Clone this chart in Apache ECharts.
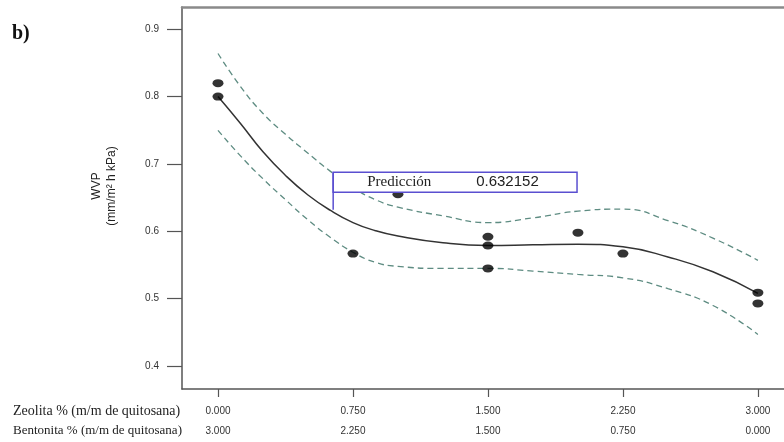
<!DOCTYPE html>
<html>
<head>
<meta charset="utf-8">
<script src="https://cdn.jsdelivr.net/npm/echarts@6/dist/echarts.min.js"></script>
<style>
  html, body { margin: 0; padding: 0; background: #fff; }
  #chart { width: 784px; height: 442px; }
</style>
</head>
<body>
<div id="chart"></div>
<script>
// valores
var curveX = [0, 0.125, 0.25, 0.375, 0.5, 0.625, 0.75, 0.875, 1.0, 1.25, 1.5, 1.75, 2.0, 2.25, 2.5, 2.75, 3.0];
var fitVals = [0.800, 0.760, 0.718, 0.683, 0.654, 0.631, 0.613, 0.601, 0.593, 0.583, 0.579, 0.580, 0.581, 0.577, 0.562, 0.540, 0.508];
var upperVals = [0.864, 0.815, 0.775, 0.744, 0.716, 0.689, 0.665, 0.647, 0.636, 0.623, 0.613, 0.620, 0.630, 0.633, 0.616, 0.590, 0.557];
var lowerVals = [0.750, 0.712, 0.678, 0.647, 0.617, 0.591, 0.569, 0.554, 0.548, 0.545, 0.545, 0.541, 0.536, 0.531, 0.515, 0.490, 0.447];

var pointX = [0, 0, 0.75, 1.0, 1.5, 1.5, 1.5, 2.0, 2.25, 3.0, 3.0];
var pointY = [0.820, 0.800, 0.567, 0.655, 0.592, 0.579, 0.545, 0.598, 0.567, 0.509, 0.493];

var xTicks = [0, 0.75, 1.5, 2.25, 3.0];
var zeolitaLabels = ['0.000', '0.750', '1.500', '2.250', '3.000'];
var bentonitaLabels = ['3.000', '2.250', '1.500', '0.750', '0.000'];
var yTicks = [0.4, 0.5, 0.6, 0.7, 0.8, 0.9];

var predX = 0.64;
var predY = 0.632152;
var predLabel = 'Predicción';
var predText = '0.632152';

var myChart = echarts.init(document.getElementById('chart'));

function pairs(xs, ys) {
    var out = [];
    for (var i = 0; i < xs.length; i++) out.push([xs[i], ys[i]]);
    return out;
}

var axisGray = '#555';
var bandColor = '#5e8c82';

var option = {
    animation: false,
    grid: {
        left: 182,
        right: 0,
        top: 7,
        bottom: 53,
        outerBoundsMode: 'none'
    },
    xAxis: [{
        type: 'value',
        min: -0.2,
        max: 3.145,
        splitLine: { show: false },
        axisLine: { onZero: false, lineStyle: { color: axisGray, width: 1.5 } },
        axisTick: {
            customValues: xTicks,
            length: 8,
            lineStyle: { color: axisGray, width: 1.2 }
        },
        axisLabel: {
            customValues: xTicks,
            margin: 12,
            fontSize: 10,
            lineHeight: 20,
            color: '#333',
            fontFamily: 'Arial, Liberation Sans, sans-serif',
            formatter: function (v) {
                var i = xTicks.indexOf(v);
                return zeolitaLabels[i] + '\n' + bentonitaLabels[i];
            }
        }
    }, {
        type: 'value',
        position: 'top',
        min: -0.2,
        max: 3.145,
        splitLine: { show: false },
        axisLine: { onZero: false, lineStyle: { color: '#8a8a8a', width: 2.5 } },
        axisTick: { show: false },
        axisLabel: { show: false }
    }],
    yAxis: {
        type: 'value',
        min: 0.366,
        max: 0.933,
        splitLine: { show: false },
        axisLine: { onZero: false, lineStyle: { color: axisGray, width: 1.5 } },
        axisTick: {
            customValues: yTicks,
            length: 15,
            lineStyle: { color: axisGray, width: 1.2 }
        },
        axisLabel: {
            customValues: yTicks,
            margin: 23,
            fontSize: 10,
            color: '#333',
            fontFamily: 'Arial, Liberation Sans, sans-serif',
            formatter: function (v) { return v.toFixed(1); }
        }
    },
    series: [{
        name: 'upper',
        type: 'line',
        data: pairs(curveX, upperVals),
        smooth: true,
        showSymbol: false,
        lineStyle: { color: bandColor, width: 1.3, type: [6, 4] }
    }, {
        name: 'lower',
        type: 'line',
        data: pairs(curveX, lowerVals),
        smooth: true,
        showSymbol: false,
        lineStyle: { color: bandColor, width: 1.3, type: [6, 4] }
    }, {
        name: 'fit',
        type: 'line',
        data: pairs(curveX, fitVals),
        smooth: true,
        showSymbol: false,
        lineStyle: { color: '#333', width: 1.5 }
    }, {
        name: 'obs',
        type: 'scatter',
        data: pairs(pointX, pointY),
        symbol: 'circle',
        symbolSize: [11, 8],
        itemStyle: { color: '#000' },
        z: 5
    }]
};
myChart.setOption(option);

// anotaciones
var p = myChart.convertToPixel({ gridIndex: 0 }, [predX, predY]);
var boxTL = myChart.convertToPixel({ gridIndex: 0 }, [predX, 0.6876]);
var boxBR = myChart.convertToPixel({ gridIndex: 0 }, [1.995, 0.658]);
var boxColor = '#5a4fd0';

myChart.setOption({
    graphic: [
        {
            type: 'text', left: 12, top: 24,
            style: { text: 'b)', font: 'bold 20px "Liberation Serif", serif', fill: '#111' }
        },
        {
            type: 'text', x: 104, y: 186, rotation: Math.PI / 2,
            style: {
                text: 'WVP\n(mm/m² h kPa)',
                font: '12px Arial, "Liberation Sans", sans-serif',
                lineHeight: 15,
                fill: '#222',
                align: 'center',
                verticalAlign: 'middle'
            }
        },
        {
            type: 'text', x: 13, y: 411,
            style: { text: 'Zeolita % (m/m de quitosana)', font: '14px "Liberation Serif", serif', fill: '#222', verticalAlign: 'middle' }
        },
        {
            type: 'text', x: 13, y: 431,
            style: { text: 'Bentonita % (m/m de quitosana)', font: '13px "Liberation Serif", serif', fill: '#222', verticalAlign: 'middle' }
        },
        {
            type: 'rect', z: 10,
            shape: { x: boxTL[0], y: boxTL[1], width: boxBR[0] - boxTL[0], height: boxBR[1] - boxTL[1] },
            style: { fill: '#fff', stroke: boxColor, lineWidth: 1.5 }
        },
        {
            type: 'line', z: 10,
            shape: { x1: p[0], y1: boxTL[1], x2: p[0], y2: p[1] },
            style: { stroke: boxColor, lineWidth: 1.5 }
        },
        {
            type: 'text', z: 11, x: boxTL[0] + 34, y: (boxTL[1] + boxBR[1]) / 2,
            style: { text: predLabel, font: '15px "Liberation Serif", serif', fill: '#222', verticalAlign: 'middle' }
        },
        {
            type: 'text', z: 11, x: boxTL[0] + 143, y: (boxTL[1] + boxBR[1]) / 2,
            style: { text: predText, font: '15px Arial, "Liberation Sans", sans-serif', fill: '#222', verticalAlign: 'middle' }
        }
    ]
});
</script>
</body>
</html>
